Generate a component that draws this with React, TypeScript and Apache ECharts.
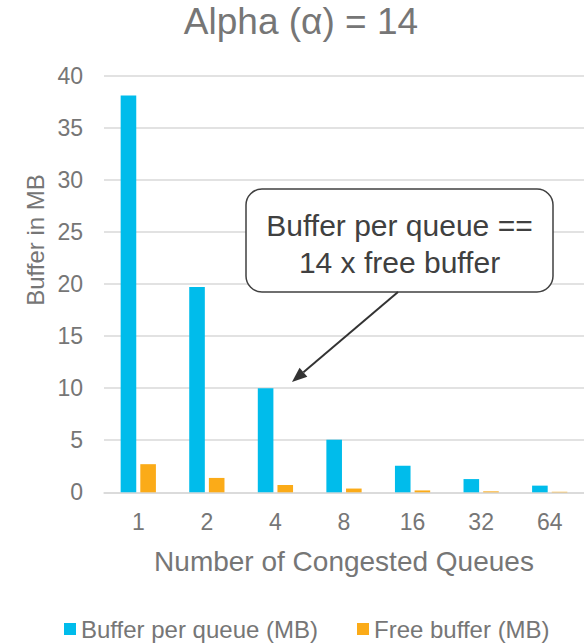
import React, { useEffect, useRef } from "react";
import * as echarts from "echarts";

const categories = ["1", "2", "4", "8", "16", "32", "64"];
const bufferPerQueue = [38.1, 19.7, 10.0, 5.05, 2.55, 1.27, 0.64];
const freeBuffer = [2.7, 1.38, 0.7, 0.36, 0.18, 0.09, 0.05];
const yTicks = { min: 0, max: 40, interval: 5 };

const FONT = "'Liberation Sans', Arial, sans-serif";
const GRAY = "#767676";

export default function App() {
  const ref = useRef<HTMLDivElement>(null);
  useEffect(() => {
    document.body.style.margin = "0";
    if (!ref.current) return;
    const chart = echarts.init(ref.current, null, { renderer: "svg" });
    // arrow geometry
    const sx = 398, sy = 292, tx = 292, ty = 382;
    const dx = tx - sx, dy = ty - sy;
    const len = Math.sqrt(dx * dx + dy * dy);
    const ux = dx / len, uy = dy / len;
    const hl = 15, hw = 6;
    const bx = tx - ux * hl, by = ty - uy * hl;
    const px = -uy, py = ux;
    chart.setOption({
      animation: false,
      textStyle: { fontFamily: FONT },
      title: {
        text: "Alpha (α) = 14",
        left: 301,
        top: 3,
        padding: 0,
        textAlign: "center",
        textStyle: { fontSize: 37, fontWeight: "normal", color: GRAY, fontFamily: FONT },
      },
      legend: {
        left: 64,
        top: 617,
        padding: 0,
        itemWidth: 12,
        itemHeight: 12,
        itemGap: 39,
        icon: "rect",
        textStyle: { fontSize: 24, color: GRAY, fontFamily: FONT },
        data: ["Buffer per queue (MB)", "Free buffer (MB)"],
      },
      grid: { left: 104, top: 75.7, width: 489, height: 416.6, containLabel: false },
      xAxis: {
        type: "category",
        data: categories,
        name: "Number of Congested Queues",
        nameLocation: "middle",
        nameGap: 55,
        nameTextStyle: { fontSize: 28, color: GRAY, fontFamily: FONT },
        axisLine: { lineStyle: { color: "#d9d9d9", width: 1.5 } },
        axisTick: { show: false },
        axisLabel: { fontSize: 23, color: GRAY, margin: 18, fontFamily: FONT },
      },
      yAxis: {
        type: "value",
        min: yTicks.min,
        max: yTicks.max,
        interval: yTicks.interval,
        axisLine: { show: false },
        axisTick: { show: false },
        axisLabel: { fontSize: 23, color: GRAY, margin: 21, fontFamily: FONT },
        splitLine: { lineStyle: { color: "#d9d9d9", width: 1.5 } },
      },
      series: [
        {
          name: "Buffer per queue (MB)",
          type: "bar",
          data: bufferPerQueue,
          barWidth: 15.6,
          barGap: "26%",
          itemStyle: { color: "#00BCEB" },
        },
        {
          name: "Free buffer (MB)",
          type: "bar",
          data: freeBuffer,
          barWidth: 15.6,
          itemStyle: { color: "#FBAB18" },
        },
      ],
      graphic: [
        {
          type: "text",
          x: 35,
          y: 240,
          rotation: Math.PI / 2,
          style: {
            text: "Buffer in MB",
            fontSize: 24,
            fill: GRAY,
            fontFamily: FONT,
            align: "center",
            verticalAlign: "middle",
          },
        },
        {
          type: "rect",
          shape: { x: 246, y: 189, width: 307, height: 103, r: 16 },
          style: { fill: "#ffffff", stroke: "#404040", lineWidth: 1.5 },
          z: 10,
        },
        {
          type: "text",
          x: 399.5,
          y: 225,
          z: 11,
          style: {
            text: "Buffer per queue ==",
            fontSize: 30,
            fill: "#404040",
            fontFamily: FONT,
            align: "center",
            verticalAlign: "middle",
          },
        },
        {
          type: "text",
          x: 399.5,
          y: 262,
          z: 11,
          style: {
            text: "14 x free buffer",
            fontSize: 30,
            fill: "#404040",
            fontFamily: FONT,
            align: "center",
            verticalAlign: "middle",
          },
        },
        {
          type: "line",
          z: 10,
          shape: { x1: sx, y1: sy, x2: bx, y2: by },
          style: { stroke: "#333333", lineWidth: 2 },
        },
        {
          type: "polygon",
          z: 10,
          shape: {
            points: [
              [tx, ty],
              [bx + px * hw, by + py * hw],
              [bx - px * hw, by - py * hw],
            ],
          },
          style: { fill: "#333333" },
        },
      ],
    });
    return () => chart.dispose();
  }, []);
  return <div ref={ref} style={{ width: 584, height: 644 }} />;
}
